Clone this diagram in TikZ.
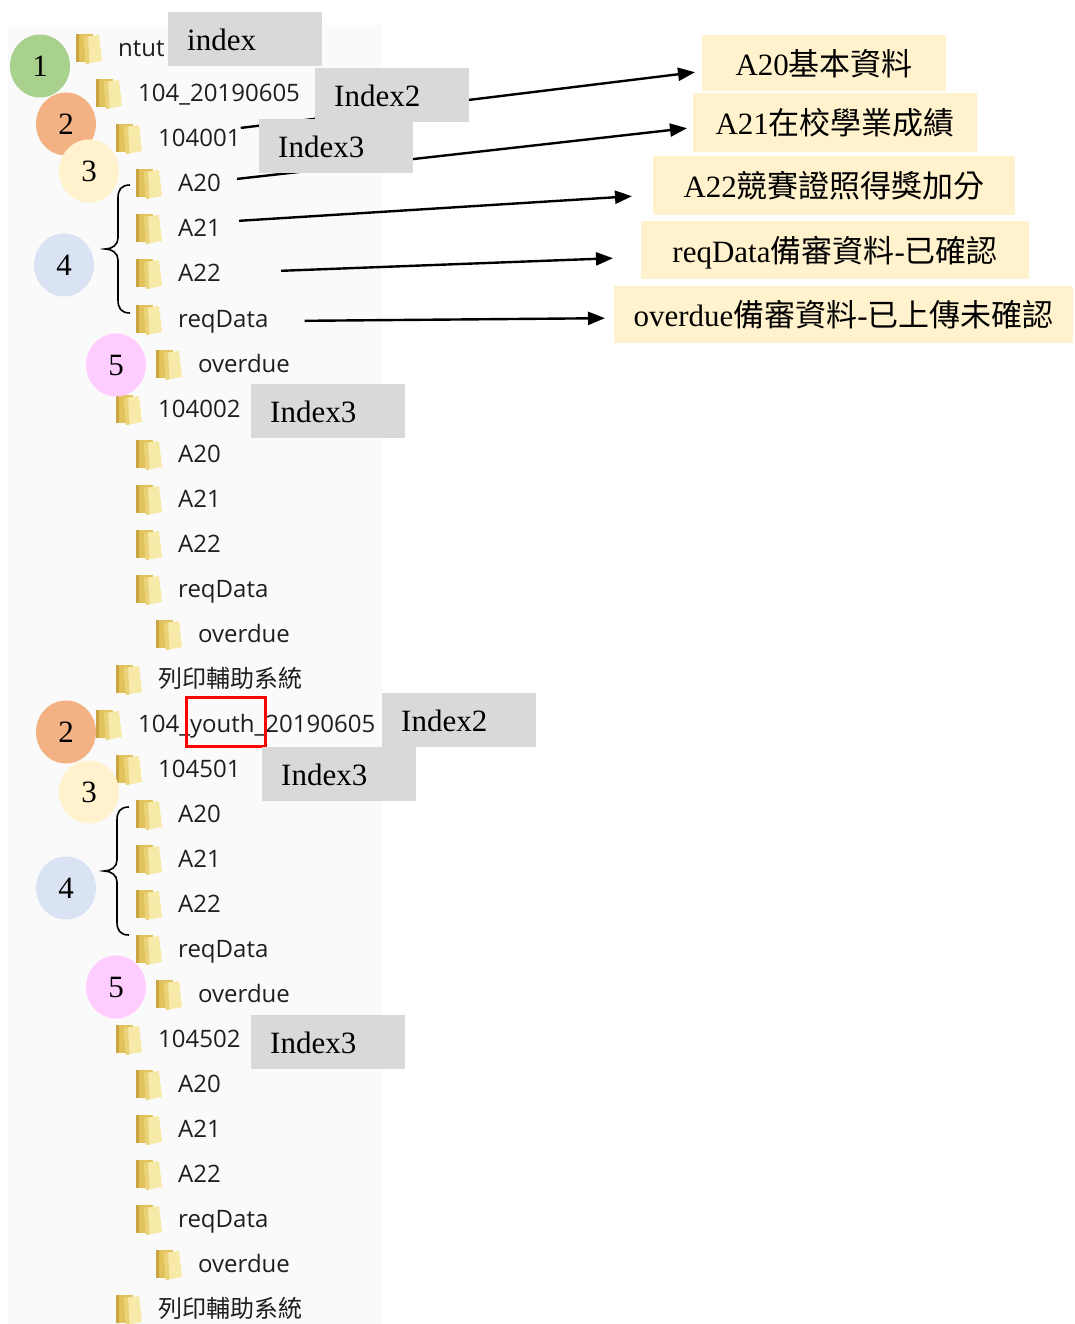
\documentclass[tikz,border=0pt]{standalone}
\usepackage{fontspec}
\setmainfont{Liberation Serif}
\newfontfamily\cjk{Noto Sans CJK TC}
\newfontfamily\uifont{Open Sans}
\usetikzlibrary{arrows.meta,calc,shapes.geometric}
\pgfdeclarelayer{back}
\pgfdeclarelayer{lines}
\pgfsetlayers{back,lines,main}
\definecolor{boxgray}{HTML}{D9D9D9}
\definecolor{boxyellow}{HTML}{FFF2CC}
\definecolor{cgreen}{HTML}{A9D18E}
\definecolor{corange}{HTML}{F4B183}
\definecolor{cyellow}{HTML}{FFF2CC}
\definecolor{cblue}{HTML}{DAE3F3}
\definecolor{cpink}{HTML}{FFCCFF}
\definecolor{panel}{HTML}{FAFAFA}
\definecolor{folda}{HTML}{E2C25A}
\definecolor{foldb}{HTML}{F7E9A8}
\definecolor{foldc}{HTML}{C9A440}
\definecolor{treeink}{HTML}{1E1E1E}
\newcommand\printsys{{\cjk 列印輔助系統}}
\begin{document}
\begin{tikzpicture}[x=1pt,y=-1pt,
  treetext/.style={font=\uifont\fontsize{24}{27}\selectfont, text=treeink, inner sep=0pt, anchor=base west},
  graybox/.style={fill=boxgray, font=\fontsize{31}{36}\selectfont, text height=26pt, text depth=3pt,
    inner xsep=19pt, inner ysep=12.5pt, text width=116pt, align=left, anchor=north west},
  yellowbox/.style={fill=boxyellow, font=\fontsize{31}{36}\selectfont, text height=28pt, text depth=4pt,
    inner sep=0pt, anchor=north west},
  numcirc/.style={ellipse, minimum width=60pt, minimum height=63pt, inner sep=0pt,
    font=\fontsize{31}{36}\selectfont},
  conn/.style={line width=2.4pt, -{Triangle[length=17pt,width=13pt]}},
  bracestyle/.style={line width=1.6pt},
  foldericon/.pic={
    \fill[folda] (0,-14) rectangle (17,14);
    \fill[foldc] (0,-14) rectangle (3,14);
    \fill[foldb] (8,-11) -- (23,-13) -- (26,13) -- (10,16) -- cycle;
    \fill[folda!60!foldb] (8,-11) -- (12,-11.5) -- (13.5,15.4) -- (10,16) -- cycle;
  }
]
\useasboundingbox (0,0) rectangle (1074,1324);
\begin{pgfonlayer}{back}
  \fill[white] (0,0) rectangle (1074,1324);
  \fill[panel] (8,25) rectangle (382,1324);
\end{pgfonlayer}

% tree rows
\foreach \lv/\yy/\txt [count=\i] in {
  0/48/ntut, 1/93/104\_20190605, 2/138/104001,
  3/183/A20, 3/228/A21, 3/273/A22, 3/319/reqData, 4/364/overdue,
  2/409/104002,
  3/454/A20, 3/499/A21, 3/544/A22, 3/589/reqData, 4/634/overdue,
  2/679/\printsys,
  1/724/104\_youth\_20190605, 2/769/104501,
  3/814/A20, 3/859/A21, 3/904/A22, 3/949/reqData, 4/994/overdue,
  2/1039/104502,
  3/1084/A20, 3/1129/A21, 3/1174/A22, 3/1219/reqData, 4/1264/overdue,
  2/1309/\printsys}
{
  \pic at ({76+20*\lv},\yy) {foldericon};
  \node[treetext] (r\i) at ({118+20*\lv},{\yy+8.5}) {\txt};
}

% numbered circles
\node[numcirc, fill=cgreen] (k1) at (40,66) {1};
\node[numcirc, fill=corange] (k2) at (66,124) {2};
\node[numcirc, fill=cyellow] (k3) at (89,171) {3};
\node[numcirc, fill=cblue] (k4) at (64,265) {4};
\node[numcirc, fill=cpink] (k5) at (116,365) {5};
\node[numcirc, fill=corange] (k6) at (66,732) {2};
\node[numcirc, fill=cyellow] (k7) at (89,792) {3};
\node[numcirc, fill=cblue] (k8) at (66,888) {4};
\node[numcirc, fill=cpink] (k9) at (116,987) {5};

% braces
\foreach \dx/\dy in {0/0, -1/622}{
\begin{scope}[shift={(\dx,\dy)}]
\draw[bracestyle] (130,185) .. controls (121,185) and (118,190) .. (118,198) -- (118,238)
  .. controls (118,245) and (112,249) .. (105,249)
  .. controls (112,249) and (118,253) .. (118,260) -- (118,300)
  .. controls (118,308) and (121,313) .. (130,313);
\end{scope}
}

% red highlight
\draw[red, line width=3pt] (186,697) rectangle (265,746);

% gray index labels
\node[graybox] (g1) at (168,12) {index};
\node[graybox] (g2) at (315,68) {Index2};
\node[graybox] (g3) at (259,119) {Index3};
\node[graybox] (g4) at (251,384) {Index3};
\node[graybox] (g5) at (382,693) {Index2};
\node[graybox] (g6) at (262,747) {Index3};
\node[graybox] (g7) at (251,1015) {Index3};

% yellow description labels
\node[yellowbox, minimum width=244pt, minimum height=56pt] (y1) at (702,35) {A20{\cjk 基本資料}};
\node[yellowbox, minimum width=284pt, minimum height=59pt] (y2) at (693,93) {A21{\cjk 在校學業成績}};
\node[yellowbox, minimum width=362pt, minimum height=59pt] (y3) at (653,156) {A22{\cjk 競賽證照得獎加分}};
\node[yellowbox, minimum width=388pt, minimum height=58pt] (y4) at (641,221) {reqData{\cjk 備審資料}-{\cjk 已確認}};
\node[yellowbox, minimum width=459pt, minimum height=57pt] (y5) at (614,286) {overdue{\cjk 備審資料}-{\cjk 已上傳未確認}};

% connectors (behind labels)
\begin{pgfonlayer}{lines}
\draw[conn] ($(r3.east)+(0,-10)$) -- ($(y1.west)+(-7,9)$);
\draw[conn] ($(r4.east)+(16,-4)$) -- ($(y2.west)+(-6,5.5)$);
\draw[conn] ($(r5.east)+(18,-7)$) -- ($(y3.west)+(-21,10.5)$);
\draw[conn] ($(r6.east)+(60,-2)$) -- ($(y4.west)+(-28,8)$);
\draw[conn] ($(r7.east)+(36,-1)$) -- ($(y5.west)+(-9,3.5)$);
\end{pgfonlayer}
\end{tikzpicture}
\end{document}
